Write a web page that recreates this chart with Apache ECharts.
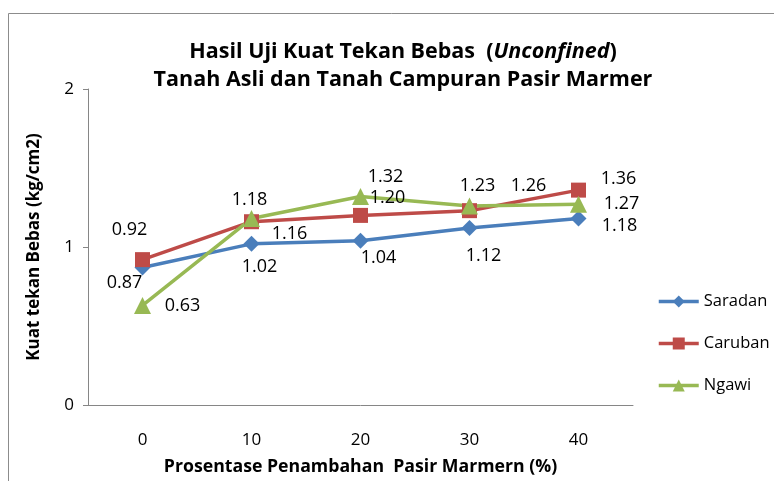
<!DOCTYPE html>
<html>
<head>
<meta charset="utf-8">
<script src="https://cdn.jsdelivr.net/npm/echarts@6/dist/echarts.min.js"></script>
<style>
  html, body { margin: 0; padding: 0; background: #fff; }
  #chart { width: 774px; height: 481px; }
</style>
</head>
<body>
<div id="chart"></div>
<script>
'use strict'
// data
const categories = ['0', '10', '20', '30', '40'];
const saradan = [0.87, 1.02, 1.04, 1.12, 1.18];
const caruban = [0.92, 1.16, 1.20, 1.23, 1.36];
const ngawi = [0.63, 1.18, 1.32, 1.26, 1.27];

// where each value label sits relative to its point (labels were dragged by hand)
const offSaradan = [[-18, 15], [8, 23], [18, 17], [14, 28], [41, 7]];
const offCaruban = [[-13, -30], [38, 12], [27, -18], [8, -25], [40, -11]];
const offNgawi = [[40, 0], [-2, -19], [25, -20], [59, -20], [43, 0]];

const font = '"Open Sans", "Noto Sans", sans-serif';

function withLabels(values, offs){
	return values.map((v, i) => ({
		value: v,
		label: { offset: offs[i] }
	}))
}

function makeSeries(name, values, offs, color, symbol, size){
	return {
		name: name,
		type: 'line',
		data: withLabels(values, offs),
		symbol: symbol,
		symbolSize: size,
		lineStyle: { color: color, width: 3.5 },
		itemStyle: { color: color },
		label: {
			show: true,
			position: 'inside',
			color: '#000',
			fontSize: 18,
			fontFamily: font,
			formatter: p => p.value.toFixed(2)
		},
		emphasis: { disabled: true },
		animation: false
	}
}

let chart = echarts.init(document.getElementById('chart'));
let option = {
	backgroundColor: '#fff',
	title: {
		text: '{b|Hasil Uji Kuat Tekan Bebas  (}{i|Unconfined}{b|)}\n{b|Tanah Asli dan Tanah Campuran Pasir Marmer}',
		left: 398,
		top: 33,
		textAlign: 'center',
		textStyle: {
			rich: {
				b: { fontSize: 21.5, fontWeight: 'bold', fontFamily: font, color: '#000', lineHeight: 28 },
				i: { fontSize: 21.5, fontWeight: 'bold', fontStyle: 'italic', fontFamily: font, color: '#000', lineHeight: 28 }
			}
		}
	},
	graphic: [{
		type: 'rect',
		shape: { x: 8.5, y: 13.5, width: 820, height: 520 },
		style: { fill: 'none', stroke: '#8c8c8c', lineWidth: 1 },
		silent: true
	}],
	legend: {
		orient: 'vertical',
		left: 652,
		top: 288,
		itemWidth: 40,
		itemHeight: 15,
		itemGap: 25,
		lineStyle: { width: 3.5 },
		textStyle: { fontSize: 16.5, fontFamily: font, color: '#000' },
		data: ['Saradan', 'Caruban', 'Ngawi']
	},
	grid: { left: 88, right: 141, top: 89, bottom: 76 },
	xAxis: {
		type: 'category',
		data: categories,
		name: 'Prosentase Penambahan  Pasir Marmern (%)',
		nameLocation: 'middle',
		nameGap: 53,
		nameTextStyle: { fontSize: 17.7, fontWeight: 'bold', fontFamily: font, color: '#000' },
		axisLine: { lineStyle: { color: '#868686', width: 1 } },
		axisTick: { show: false },
		axisLabel: { margin: 27, fontSize: 17, fontFamily: font, color: '#000' }
	},
	yAxis: {
		type: 'value',
		min: 0,
		max: 2,
		interval: 1,
		name: 'Kuat tekan Bebas (kg/cm2)',
		nameLocation: 'middle',
		nameGap: 45,
		nameTextStyle: { fontSize: 17, fontWeight: 'bold', fontFamily: font, color: '#000' },
		axisLine: { show: true, lineStyle: { color: '#868686', width: 1 } },
		axisTick: { show: true, length: 5, lineStyle: { color: '#868686' } },
		splitLine: { show: false },
		axisLabel: { margin: 14, fontSize: 17, fontFamily: font, color: '#000' }
	},
	series: [
		makeSeries('Saradan', saradan, offSaradan, '#4a7ebb', 'diamond', 16),
		makeSeries('Caruban', caruban, offCaruban, '#be4b48', 'rect', 15),
		makeSeries('Ngawi', ngawi, offNgawi, '#98b954', 'triangle', 17)
	]
};
chart.setOption(option);
</script>
</body>
</html>
